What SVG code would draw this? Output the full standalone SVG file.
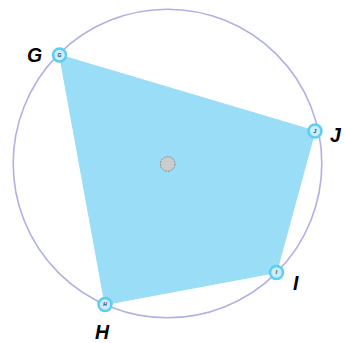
<svg xmlns="http://www.w3.org/2000/svg" width="344" height="343" viewBox="0 0 344 343">
<style>
.pt{fill:#c8edfb;stroke:#5ccdf3;stroke-width:2.5}
.pl{font-family:"Liberation Sans",Arial,sans-serif;font-size:5px;font-style:italic;font-weight:bold;fill:#333;text-anchor:middle}
.lbl{font-family:"Liberation Sans",Arial,sans-serif;font-size:19.5px;font-style:italic;font-weight:bold;fill:#000}
</style>
<rect width="344" height="343" fill="#fff"/>
<g id="circle"><circle cx="167.5" cy="163.5" r="154.3" fill="none" stroke="#b0b0e6" stroke-width="1.6"/></g>
<g id="quad"><polygon points="59.5,55 315,131 276.5,272.5 105,304.5" fill="#99ddf6" stroke="#99ddf6" stroke-width="1"/></g>
<g id="center"><circle cx="167.7" cy="164" r="7.3" fill="#cccccc" stroke="#8a8a8a" stroke-width="1" stroke-dasharray="2 1"/></g>
<g id="G"><circle class="pt" cx="59.5" cy="55" r="6.5"/><text class="pl" x="59.5" y="56.7">G</text><text class="lbl" x="27" y="62">G</text></g>
<g id="J"><circle class="pt" cx="315" cy="131" r="6.5"/><text class="pl" x="315" y="132.7">J</text><text class="lbl" x="330" y="142">J</text></g>
<g id="I"><circle class="pt" cx="276.5" cy="272.5" r="6.5"/><text class="pl" x="276.5" y="274.2">I</text><text class="lbl" x="293" y="290">I</text></g>
<g id="H"><circle class="pt" cx="105" cy="304.5" r="6.5"/><text class="pl" x="105" y="306.2">H</text><text class="lbl" x="95" y="339">H</text></g>
</svg>
